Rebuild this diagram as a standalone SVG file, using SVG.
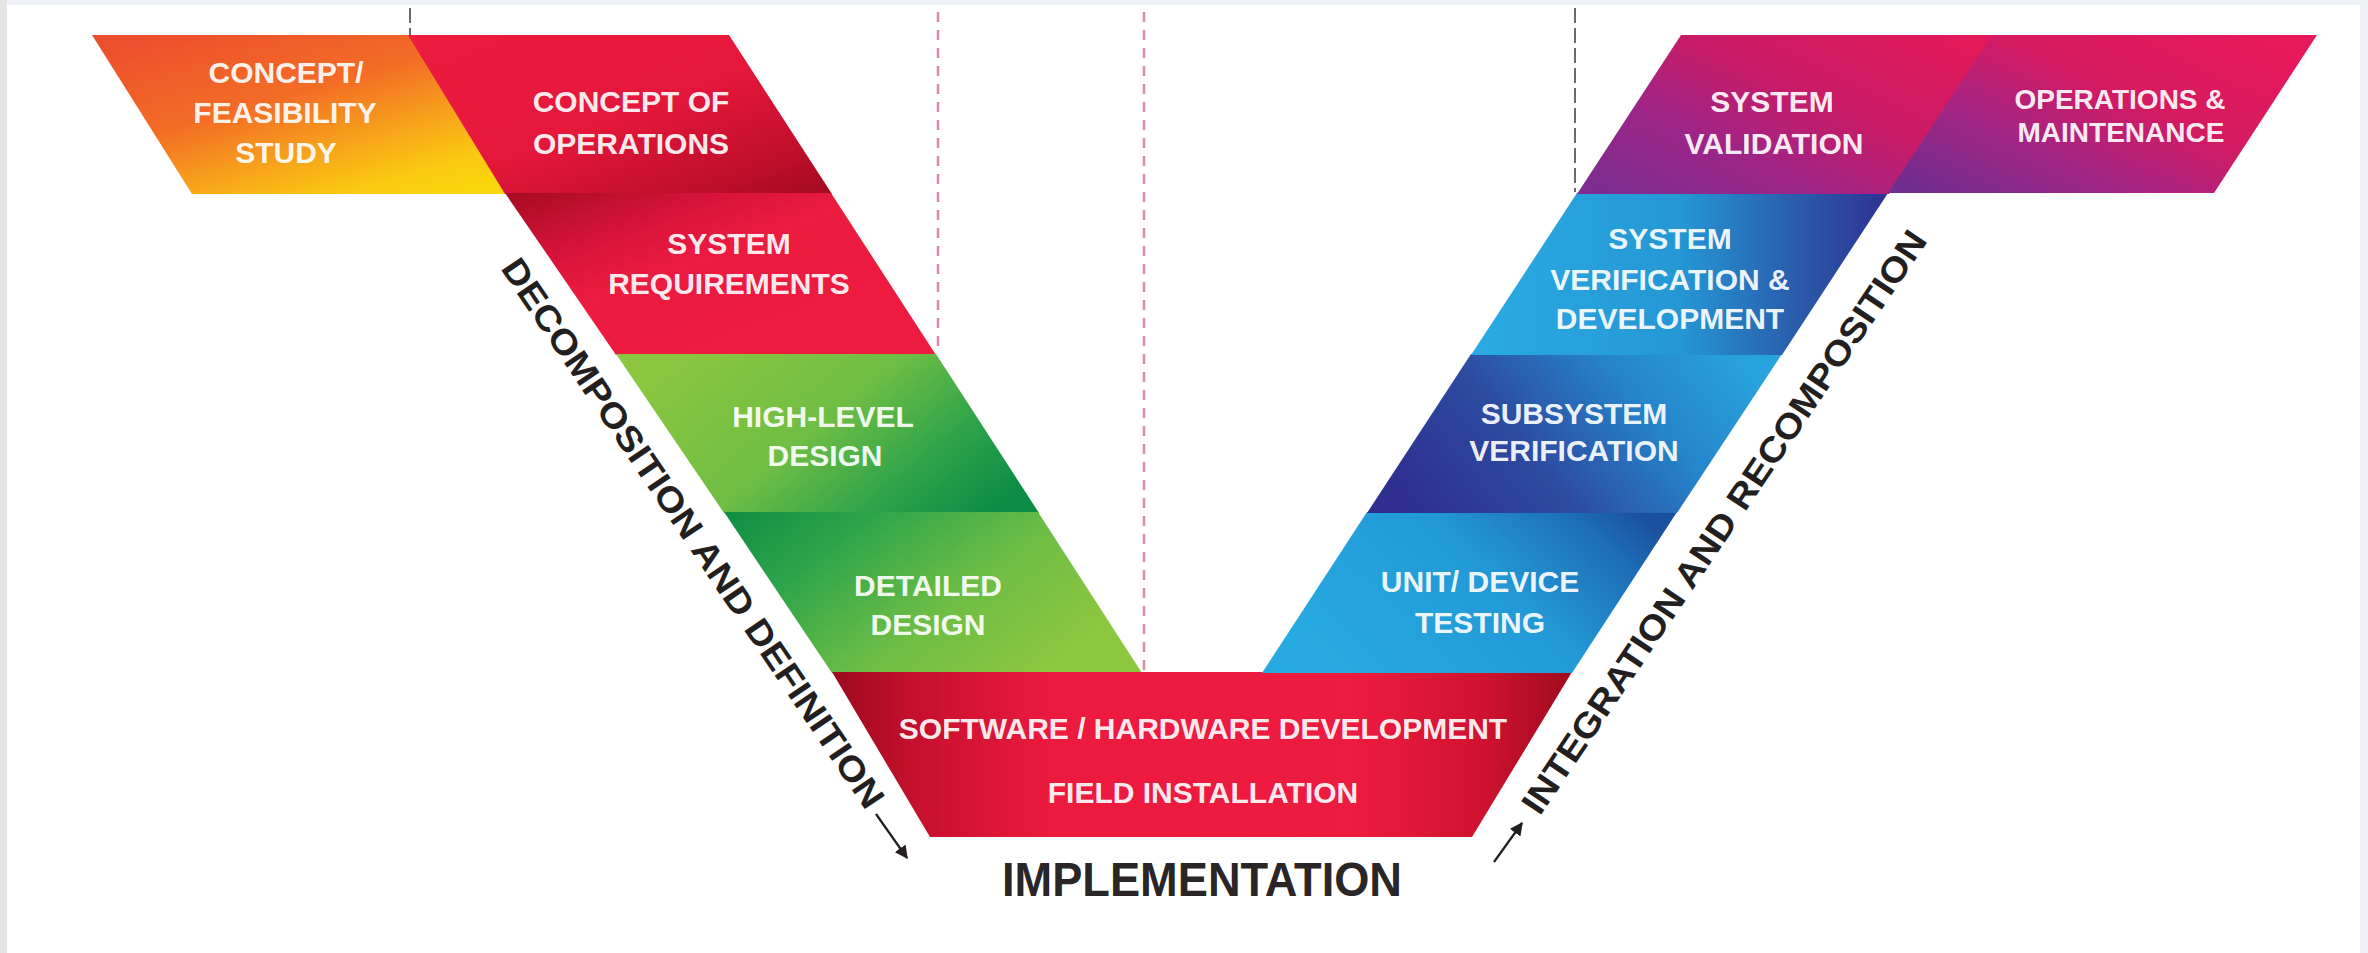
<svg xmlns="http://www.w3.org/2000/svg" width="2368" height="953" viewBox="0 0 2368 953">
<style>
.lbl{font-family:"Liberation Sans",Arial,sans-serif;font-weight:bold;font-size:30px;fill:#ffffff;fill-opacity:0.93;text-anchor:middle}
.side{font-family:"Liberation Sans",Arial,sans-serif;font-weight:bold;font-size:35px;fill:#231f20;text-anchor:middle}
.impl{font-family:"Liberation Sans",Arial,sans-serif;font-weight:bold;font-size:48px;fill:#2a2627}
.guide{fill:none;stroke:#d98c9d;stroke-width:2.5;stroke-dasharray:10 8}
.guide-dark{fill:none;stroke:#6a6a6a;stroke-width:2;stroke-dasharray:15 5}
.arrow{fill:none;stroke:#231f20;stroke-width:2.2;marker-end:url(#ah)}
</style>
<defs>
<marker id="ah" viewBox="0 0 10 10" refX="9" refY="5" markerWidth="6" markerHeight="6" orient="auto" markerUnits="strokeWidth">
<path d="M0,0 L10,5 L0,10 z" fill="#231f20"/>
</marker>
<linearGradient id="gCF" x1="0.15" y1="0" x2="0.9" y2="1">
<stop offset="0" stop-color="#ec4f2d"/><stop offset="0.4" stop-color="#f36d25"/><stop offset="0.65" stop-color="#f7a21b"/><stop offset="0.85" stop-color="#fbc811"/><stop offset="1" stop-color="#f9d70c"/>
</linearGradient>
<linearGradient id="gCO" x1="0" y1="0" x2="1" y2="1">
<stop offset="0" stop-color="#ec1b40"/><stop offset="0.5" stop-color="#e5173b"/><stop offset="0.8" stop-color="#c30f2c"/><stop offset="1" stop-color="#a20a1f"/>
</linearGradient>
<linearGradient id="gSR" x1="0" y1="0" x2="0.7" y2="0.7">
<stop offset="0" stop-color="#a50c22"/><stop offset="0.35" stop-color="#d6133a"/><stop offset="0.6" stop-color="#ec1b40"/><stop offset="1" stop-color="#ee1a3f"/>
</linearGradient>
<linearGradient id="gHL" x1="0" y1="0.3" x2="1" y2="0.75">
<stop offset="0" stop-color="#8cc63f"/><stop offset="0.45" stop-color="#6fbe44"/><stop offset="0.75" stop-color="#2ea34a"/><stop offset="1" stop-color="#0b8c45"/>
</linearGradient>
<linearGradient id="gDD" x1="0" y1="0" x2="1" y2="0.5">
<stop offset="0" stop-color="#0f8d44"/><stop offset="0.3" stop-color="#2fa54a"/><stop offset="0.65" stop-color="#6cbd45"/><stop offset="1" stop-color="#8dc63f"/>
</linearGradient>
<linearGradient id="gSW" x1="0" y1="0" x2="1" y2="0">
<stop offset="0" stop-color="#9c0a1e"/><stop offset="0.12" stop-color="#c8102e"/><stop offset="0.3" stop-color="#ec1a3f"/><stop offset="0.7" stop-color="#ee1b41"/><stop offset="0.88" stop-color="#cf122f"/><stop offset="1" stop-color="#a00a1e"/>
</linearGradient>
<linearGradient id="gUD" x1="0" y1="0.6" x2="1" y2="0.2">
<stop offset="0" stop-color="#27aae1"/><stop offset="0.55" stop-color="#2299d6"/><stop offset="0.85" stop-color="#1d6db6"/><stop offset="1" stop-color="#1b4f9f"/>
</linearGradient>
<linearGradient id="gSS" x1="0" y1="0.6" x2="1" y2="0.3">
<stop offset="0" stop-color="#2e2f8f"/><stop offset="0.35" stop-color="#2d4ba0"/><stop offset="0.7" stop-color="#2586cc"/><stop offset="1" stop-color="#28a3dd"/>
</linearGradient>
<linearGradient id="gSV" x1="0" y1="0.5" x2="1" y2="0.5">
<stop offset="0" stop-color="#29abe2"/><stop offset="0.5" stop-color="#2597d5"/><stop offset="0.8" stop-color="#2a58a8"/><stop offset="1" stop-color="#2e3192"/>
</linearGradient>
<linearGradient id="gVA" x1="0" y1="0.9" x2="1" y2="0.1">
<stop offset="0" stop-color="#7c2d8f"/><stop offset="0.3" stop-color="#9d2588"/><stop offset="0.6" stop-color="#c91b66"/><stop offset="1" stop-color="#e3195a"/>
</linearGradient>
<linearGradient id="gOM" x1="0" y1="0.9" x2="1" y2="0.1">
<stop offset="0" stop-color="#6f2d8e"/><stop offset="0.3" stop-color="#a22585"/><stop offset="0.6" stop-color="#d61a60"/><stop offset="1" stop-color="#e8195a"/>
</linearGradient>
</defs>

<g id="background">
<rect x="0" y="0" width="2368" height="953" fill="#ffffff"/>
<rect x="0" y="0" width="2368" height="5" fill="#eef1f7"/>
<rect x="0" y="0" width="7" height="953" fill="#e4e4e4"/>
<rect x="2360" y="0" width="8" height="953" fill="#eef0f6"/>
</g>

<g id="guides">
<line class="guide-dark" x1="410" y1="8" x2="410" y2="36"/>
<line class="guide" x1="938" y1="12" x2="938" y2="352"/>
<line class="guide" x1="1144" y1="12" x2="1144" y2="672"/>
<line class="guide-dark" x1="1575" y1="8" x2="1575" y2="192"/>
</g>

<g id="concept-feasibility">
<polygon points="92,35 409,35 506,194 192,194" fill="url(#gCF)"/>
<text class="lbl" x="286" y="83">CONCEPT/</text>
<text class="lbl" x="285" y="123">FEASIBILITY</text>
<text class="lbl" x="286" y="163">STUDY</text>
</g>

<g id="concept-of-operations">
<polygon points="408,35 729,35 832,194 505,194" fill="url(#gCO)"/>
<text class="lbl" x="631" y="112">CONCEPT OF</text>
<text class="lbl" x="631" y="154">OPERATIONS</text>
</g>

<g id="system-requirements">
<polygon points="505,193 831,193 936,355 616,355" fill="url(#gSR)"/>
<text class="lbl" x="729" y="254">SYSTEM</text>
<text class="lbl" x="729" y="294">REQUIREMENTS</text>
</g>

<g id="high-level-design">
<polygon points="616,354 936,354 1039,513 724,513" fill="url(#gHL)"/>
<text class="lbl" x="823" y="427">HIGH-LEVEL</text>
<text class="lbl" x="825" y="466">DESIGN</text>
</g>

<g id="detailed-design">
<polygon points="724,512 1038,512 1142,673 832,673" fill="url(#gDD)"/>
<text class="lbl" x="928" y="596">DETAILED</text>
<text class="lbl" x="928" y="635">DESIGN</text>
</g>

<g id="software-hardware-development">
<polygon points="832,672 1572,672 1472,837 930,837" fill="url(#gSW)"/>
<text class="lbl" x="1203" y="739">SOFTWARE / HARDWARE DEVELOPMENT</text>
<text class="lbl" x="1203" y="803">FIELD INSTALLATION</text>
</g>

<g id="unit-device-testing">
<polygon points="1367,512 1677,512 1572,673 1262,673" fill="url(#gUD)"/>
<text class="lbl" x="1480" y="592">UNIT/ DEVICE</text>
<text class="lbl" x="1480" y="633">TESTING</text>
</g>

<g id="subsystem-verification">
<polygon points="1471,354 1782,354 1677,513 1367,513" fill="url(#gSS)"/>
<text class="lbl" x="1574" y="424">SUBSYSTEM</text>
<text class="lbl" x="1574" y="461">VERIFICATION</text>
</g>

<g id="system-verification-development">
<polygon points="1577,193 1888,193 1782,355 1471,355" fill="url(#gSV)"/>
<text class="lbl" x="1670" y="249">SYSTEM</text>
<text class="lbl" x="1670" y="290">VERIFICATION &amp;</text>
<text class="lbl" x="1670" y="329">DEVELOPMENT</text>
</g>

<g id="system-validation">
<polygon points="1681,35 1993,35 1889,194 1577,194" fill="url(#gVA)"/>
<text class="lbl" x="1772" y="112">SYSTEM</text>
<text class="lbl" x="1774" y="154">VALIDATION</text>
</g>

<g id="operations-maintenance">
<polygon points="1992,35 2317,35 2214,193 1888,193" fill="url(#gOM)"/>
<text class="lbl" x="2120" y="109" style="font-size:28px">OPERATIONS &amp;</text>
<text class="lbl" x="2121" y="142" style="font-size:28px">MAINTENANCE</text>
</g>

<g id="decomposition-label">
<text class="side" transform="translate(693,533) rotate(56)" x="0" y="12" textLength="655" lengthAdjust="spacingAndGlyphs">DECOMPOSITION AND DEFINITION</text>
</g>

<g id="integration-label">
<text class="side" transform="translate(1724,522) rotate(-56)" x="0" y="12" textLength="695" lengthAdjust="spacingAndGlyphs">INTEGRATION AND RECOMPOSITION</text>
</g>

<g id="implementation-label">
<text class="impl" x="1002" y="896" textLength="400" lengthAdjust="spacingAndGlyphs">IMPLEMENTATION</text>
</g>

<g id="connectors">
<line class="arrow" x1="876" y1="814" x2="907" y2="858"/>
<line class="arrow" x1="1494" y1="862" x2="1522" y2="823"/>
</g>
</svg>
